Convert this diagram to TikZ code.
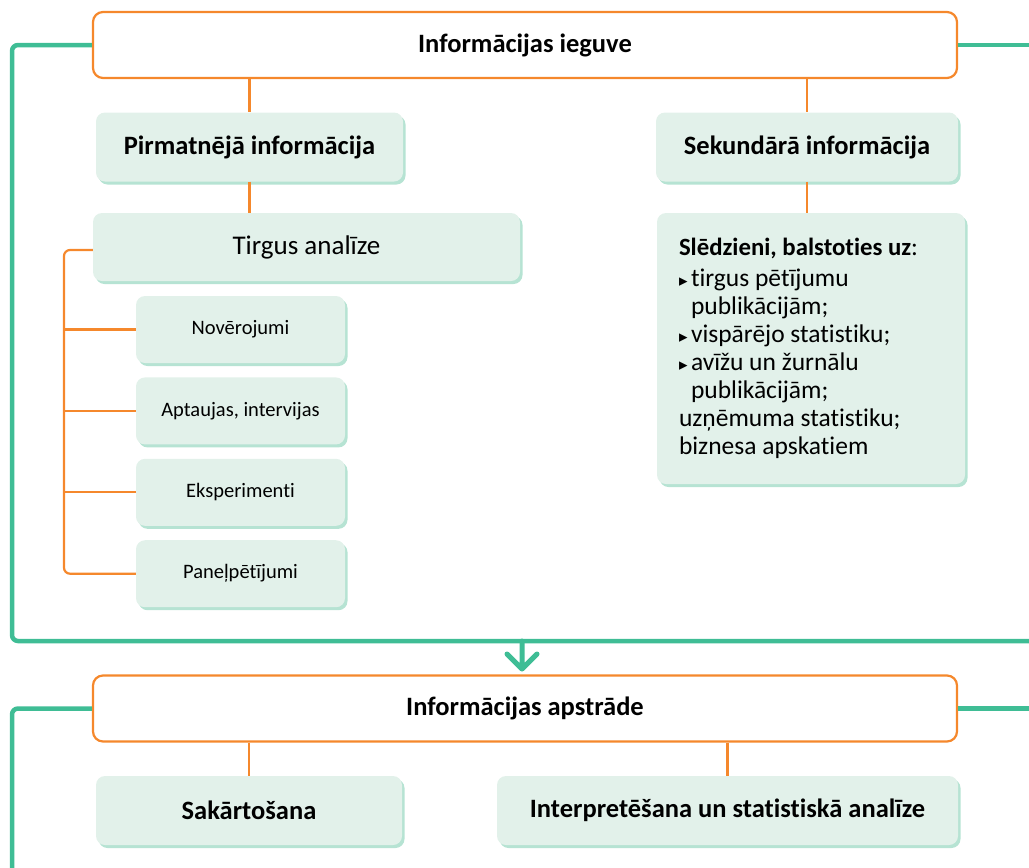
\documentclass[tikz,border=0pt]{standalone}
\usepackage{fontspec}
\setmainfont{Carlito}[Ligatures=NoCommon]
\newfontfamily\symfont{DejaVu Sans}
\usetikzlibrary{positioning,shadows}

\definecolor{frameGreen}{HTML}{3FBD95}
\definecolor{lineOrange}{HTML}{F5882C}
\definecolor{boxFill}{HTML}{E2F1EA}
\definecolor{boxShade}{HTML}{B6E3D3}

\newcommand{\bul}{\makebox[12pt][l]{\symfont\fontsize{17}{17}\selectfont ▸}}
\newcommand{\cont}{\hspace*{12pt}}

\begin{document}
\begin{tikzpicture}[
  x=1pt, y=-1pt,
  main/.style={rectangle, rounded corners=10pt, draw=lineOrange, line width=2.2pt,
               fill=white, minimum width=864pt, minimum height=66pt,
               font=\fontsize{26.5}{30}\selectfont\bfseries},
  card/.style={rectangle, rounded corners=9pt, fill=boxFill, inner sep=0pt,
               drop shadow={shadow xshift=2.5pt, shadow yshift=-3pt, fill=boxShade, opacity=1}},
  head/.style={card, minimum height=69pt, font=\fontsize{26.5}{30}\selectfont\bfseries},
  item/.style={card, minimum width=209pt, minimum height=67pt,
               font=\fontsize{20.5}{24}\selectfont},
  link/.style={draw=lineOrange, line width=2.2pt},
  frame/.style={draw=frameGreen, line width=4.5pt, rounded corners=6pt},
]
\useasboundingbox (0,0) rectangle (1029,868);

% ---------- information gathering ----------
\node[main] (ieguve) at (525,45) {Informācijas ieguve};
\node[head, minimum width=307pt] (prim) at (249.5,147) {Pirmatnējā informācija};
\node[head, minimum width=302pt] (sek) at (807,147) {Sekundārā informācija};

\node[card, minimum width=427pt, minimum height=68pt,
      font=\fontsize{27}{31}\selectfont] (tirgus) at (306.5,247) {Tirgus analīze};

\node[item] (nov) at (240.5,329.5) {Novērojumi};
\node[item, below=14pt of nov] (apt) {Aptaujas, intervijas};
\node[item, below=14pt of apt] (eksp) {Eksperimenti};
\node[item, below=14pt of eksp] (pan) {Paneļpētījumi};

\node[card, minimum width=308pt, minimum height=271pt, text width=264pt,
      align=flush left, font=\fontsize{25.5}{28}\selectfont] (sled) at (811,348.5)
  {{\fontsize{24.8}{28}\selectfont\bfseries Slēdzieni, balstoties uz}:\\[3pt]
   \bul tirgus pētījumu\\
   \cont publikācijām;\\
   \bul vispārējo statistiku;\\
   \bul avīžu un žurnālu\\
   \cont publikācijām;\\
   uzņēmuma statistiku;\\
   biznesa apskatiem};

% ---------- information processing ----------
\node[main] (apstr) at (525,708.5) {Informācijas apstrāde};
\node[head, minimum width=306pt] (sak) at (249,810.5) {Sakārtošana};
\node[head, minimum width=461pt] (interp) at (727.5,810.5) {Interpretēšana un statistiskā analīze};

% ===== orange links =====
\draw[link] (ieguve.south -| prim.north) -- (prim.north);
\draw[link] (ieguve.south -| sek.north) -- (sek.north);
\draw[link] (prim.south) -- (prim.south |- tirgus.north);
\draw[link] (sek.south) -- (sek.south |- sled.north);
\coordinate (brk) at (64,250);
\draw[link, rounded corners=6pt] (tirgus.west |- brk) -- (brk) |- (pan.west);
\foreach \n in {nov,apt,eksp}
  \draw[link] (\n.west -| brk) -- (\n.west);
\draw[link] (apstr.south -| sak.north) -- (sak.north);
\draw[link] (apstr.south -| interp.north) -- (interp.north);

% ===== green frames =====
\coordinate (f1a) at (12,641);
\coordinate (f1b) at (1029,641);
\draw[frame] (ieguve.west) -- (ieguve.west -| f1a) -- (f1a) -- (f1b);
\draw[frame] (ieguve.east) -- (ieguve.east -| f1b);

\coordinate (f2a) at (12,868);
\draw[frame] (apstr.west) -- (apstr.west -| f2a) -- (f2a);
\draw[frame] (apstr.east) -- (apstr.east -| f1b);

% ===== arrow between the stages =====
\coordinate (arr) at (522,641);
\coordinate (tip) at (522,669);
\draw[frameGreen, line width=5pt, line cap=round, line join=round]
  (arr) -- (tip) (tip) ++(-15,-15) -- (tip) -- ++(15,-15);

\end{tikzpicture}
\end{document}
